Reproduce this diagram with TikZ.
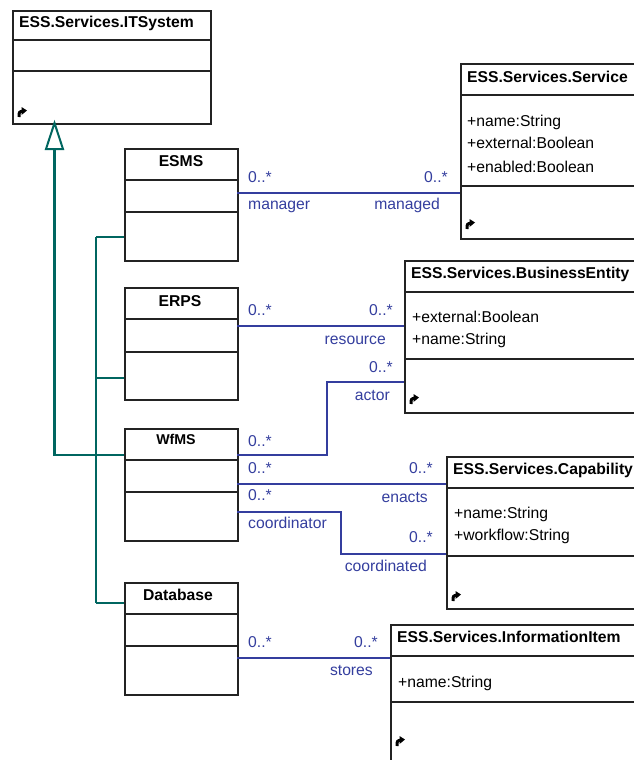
\documentclass[tikz,border=0pt]{standalone}
\usepackage{fontspec}
\setmainfont{Liberation Sans}
\definecolor{assoccol}{RGB}{52,62,158}
\definecolor{gencol}{RGB}{0,102,96}
\definecolor{boxcol}{RGB}{35,35,35}
\tikzset{
  umlbox/.style={draw=boxcol, line width=1.8pt, fill=white, inner sep=0pt, anchor=north west},
  divider/.style={draw=boxcol, line width=1.8pt},
  ttl/.style={font=\bfseries\fontsize{15.7}{18}\selectfont, inner sep=0pt, anchor=base west},
  ttlc/.style={font=\bfseries\fontsize{15.7}{18}\selectfont, inner sep=0pt, anchor=base},
  attr/.style={font=\fontsize{15.7}{18}\selectfont, inner sep=0pt, anchor=base west},
  lbll/.style={font=\fontsize{15.7}{18}\selectfont, text=assoccol, inner sep=0pt, anchor=base west},
  lblr/.style={font=\fontsize{15.7}{18}\selectfont, text=assoccol, inner sep=0pt, anchor=base east},
  assocline/.style={draw=assoccol, line width=1.9pt},
  genthick/.style={draw=gencol, line width=2.5pt},
  genthin/.style={draw=gencol, line width=1.6pt},
  hookicon/.pic={
    \draw[black, line width=3pt] (0,5) .. controls (0,0) .. (4,-1);
    \fill[black] (2.5,-5) -- (8,-1.5) -- (2.5,3) -- cycle;
  }
}
\begin{document}
\begin{tikzpicture}[x=1pt,y=-1pt]
\useasboundingbox (0,0) rectangle (634,760);
\clip (0,0) rectangle (634,760);

% ---------- ITSystem ----------
\node[umlbox, minimum width=198pt, minimum height=113pt] (itsys) at (12,10) {};
\draw[divider] (itsys.west |- 0,40) -- (itsys.east |- 0,40);
\draw[divider] (itsys.west |- 0,71) -- (itsys.east |- 0,71);
\node[ttl] (itsysT) at (19,28) {ESS.Services.ITSystem};
\pic at (19,112) {hookicon};

% ---------- left subclasses ----------
\node[umlbox, minimum width=113pt, minimum height=112pt] (esms) at (124,148) {};
\draw[divider] (esms.west |- 0,180) -- (esms.east |- 0,180);
\draw[divider] (esms.west |- 0,212) -- (esms.east |- 0,212);
\node[ttlc] (esmsT) at (181,166) {ESMS};

\node[umlbox, minimum width=113pt, minimum height=112pt] (erps) at (124,287) {};
\draw[divider] (erps.west |- 0,319) -- (erps.east |- 0,319);
\draw[divider] (erps.west |- 0,352) -- (erps.east |- 0,352);
\node[ttlc] (erpsT) at (180,306) {ERPS};

\node[umlbox, minimum width=113pt, minimum height=112pt] (wfms) at (124,428) {};
\draw[divider] (wfms.west |- 0,460) -- (wfms.east |- 0,460);
\draw[divider] (wfms.west |- 0,492) -- (wfms.east |- 0,492);
\node[ttlc, font=\bfseries\fontsize{14.2}{16}\selectfont] (wfmsT) at (176,444) {WfMS};

\node[umlbox, minimum width=113pt, minimum height=112pt] (db) at (124,582) {};
\draw[divider] (db.west |- 0,614) -- (db.east |- 0,614);
\draw[divider] (db.west |- 0,646) -- (db.east |- 0,646);
\node[ttlc] (dbT) at (178,600) {Database};

% ---------- right classes ----------
\node[umlbox, minimum width=300pt, minimum height=175pt] (svc) at (460,63) {};
\draw[divider] (svc.west |- 0,95) -- (svc.east |- 0,95);
\draw[divider] (svc.west |- 0,186) -- (svc.east |- 0,186);
\node[ttl] (svcT) at (467,82) {ESS.Services.Service};
\node[attr] (svcA1) at (467,126) {+name:String};
\node[attr] (svcA2) at (467,148) {+external:Boolean};
\node[attr] (svcA3) at (467,172) {+enabled:Boolean};
\pic at (467,224) {hookicon};

\node[umlbox, minimum width=300pt, minimum height=152pt] (be) at (404,260) {};
\draw[divider] (be.west |- 0,292) -- (be.east |- 0,292);
\draw[divider] (be.west |- 0,359) -- (be.east |- 0,359);
\node[ttl] (beT) at (411,278) {ESS.Services.BusinessEntity};
\node[attr] (beA1) at (412,322) {+external:Boolean};
\node[attr] (beA2) at (412,344) {+name:String};
\pic at (411,399) {hookicon};

\node[umlbox, minimum width=300pt, minimum height=152pt] (cap) at (446,456) {};
\draw[divider] (cap.west |- 0,488) -- (cap.east |- 0,488);
\draw[divider] (cap.west |- 0,556) -- (cap.east |- 0,556);
\node[ttl] (capT) at (453,474) {ESS.Services.Capability};
\node[attr] (capA1) at (454,518) {+name:String};
\node[attr] (capA2) at (454,540) {+workflow:String};
\pic at (453,596) {hookicon};

\node[umlbox, minimum width=300pt, minimum height=200pt] (ii) at (390,624) {};
\draw[divider] (ii.west |- 0,656) -- (ii.east |- 0,656);
\draw[divider] (ii.west |- 0,702) -- (ii.east |- 0,702);
\node[ttl] (iiT) at (397,642) {ESS.Services.InformationItem};
\node[attr] (iiA1) at (398,687) {+name:String};
\pic at (397,741) {hookicon};

% ---------- generalization ----------
\coordinate (tip) at (54.5,123);
\coordinate (triB) at (54.5,149);
\coordinate (genCorner) at (54.5,455);
\coordinate (busTop) at (96,237);
\coordinate (busBot) at (96,603);
\draw[genthick] (triB) -- (genCorner) -- (wfms.west |- genCorner);
\draw[genthin] (busTop) -- (busBot);
\draw[genthin, line width=2pt] (busTop) -- (esms.west |- busTop);
\draw[genthin, line width=2pt] (96,378) coordinate (busE) -- (erps.west |- busE);
\draw[genthin, line width=2pt] (busBot) -- (db.west |- busBot);
\draw[draw=gencol, line width=2pt, fill=white, line join=miter] (tip) -- (46,149) -- (63,149) -- cycle;

% ---------- associations ----------
% ESMS - Service
\coordinate (a1) at (237,193);
\draw[assocline] (a1) -- (svc.west |- a1);
\node[lbll] (a1m1) at (248,182) {0..*};
\node[lblr] (a1m2) at (448,182) {0..*};
\node[lbll] (a1r1) at (248,209) {manager};
\node[lblr] (a1r2) at (440,209) {managed};

% ERPS - BusinessEntity
\coordinate (a2) at (237,326);
\draw[assocline] (a2) -- (be.west |- a2);
\node[lbll] (a2m1) at (248,315) {0..*};
\node[lblr] (a2m2) at (393,315) {0..*};
\node[lblr] (a2r2) at (386,344) {resource};

% WfMS - BusinessEntity (actor)
\coordinate (a3) at (237,455);
\coordinate (a3b) at (327,455);
\coordinate (a3c) at (327,382);
\draw[assocline] (a3) -- (a3b) -- (a3c) -- (be.west |- a3c);
\node[lbll] (a3m1) at (248,446) {0..*};
\node[lblr] (a3m2) at (393,372) {0..*};
\node[lblr] (a3r2) at (390,400) {actor};

% WfMS - Capability (enacts)
\coordinate (a4) at (237,484);
\draw[assocline] (a4) -- (cap.west |- a4);
\node[lbll] (a4m1) at (248,473) {0..*};
\node[lblr] (a4m2) at (433,473) {0..*};
\node[lblr] (a4r2) at (428,502) {enacts};

% WfMS - Capability (coordinator/coordinated)
\coordinate (a5) at (237,512);
\coordinate (a5b) at (341,512);
\coordinate (a5c) at (341,554);
\draw[assocline] (a5) -- (a5b) -- (a5c) -- (cap.west |- a5c);
\node[lbll] (a5m1) at (248,500) {0..*};
\node[lbll] (a5r1) at (248,528) {coordinator};
\node[lblr] (a5m2) at (433,542) {0..*};
\node[lblr] (a5r2) at (427,571) {coordinated};

% Database - InformationItem
\coordinate (a6) at (237,658);
\draw[assocline] (a6) -- (ii.west |- a6);
\node[lbll] (a6m1) at (248,647) {0..*};
\node[lblr] (a6m2) at (378,647) {0..*};
\node[lblr] (a6r2) at (373,675) {stores};
\end{tikzpicture}
\end{document}
